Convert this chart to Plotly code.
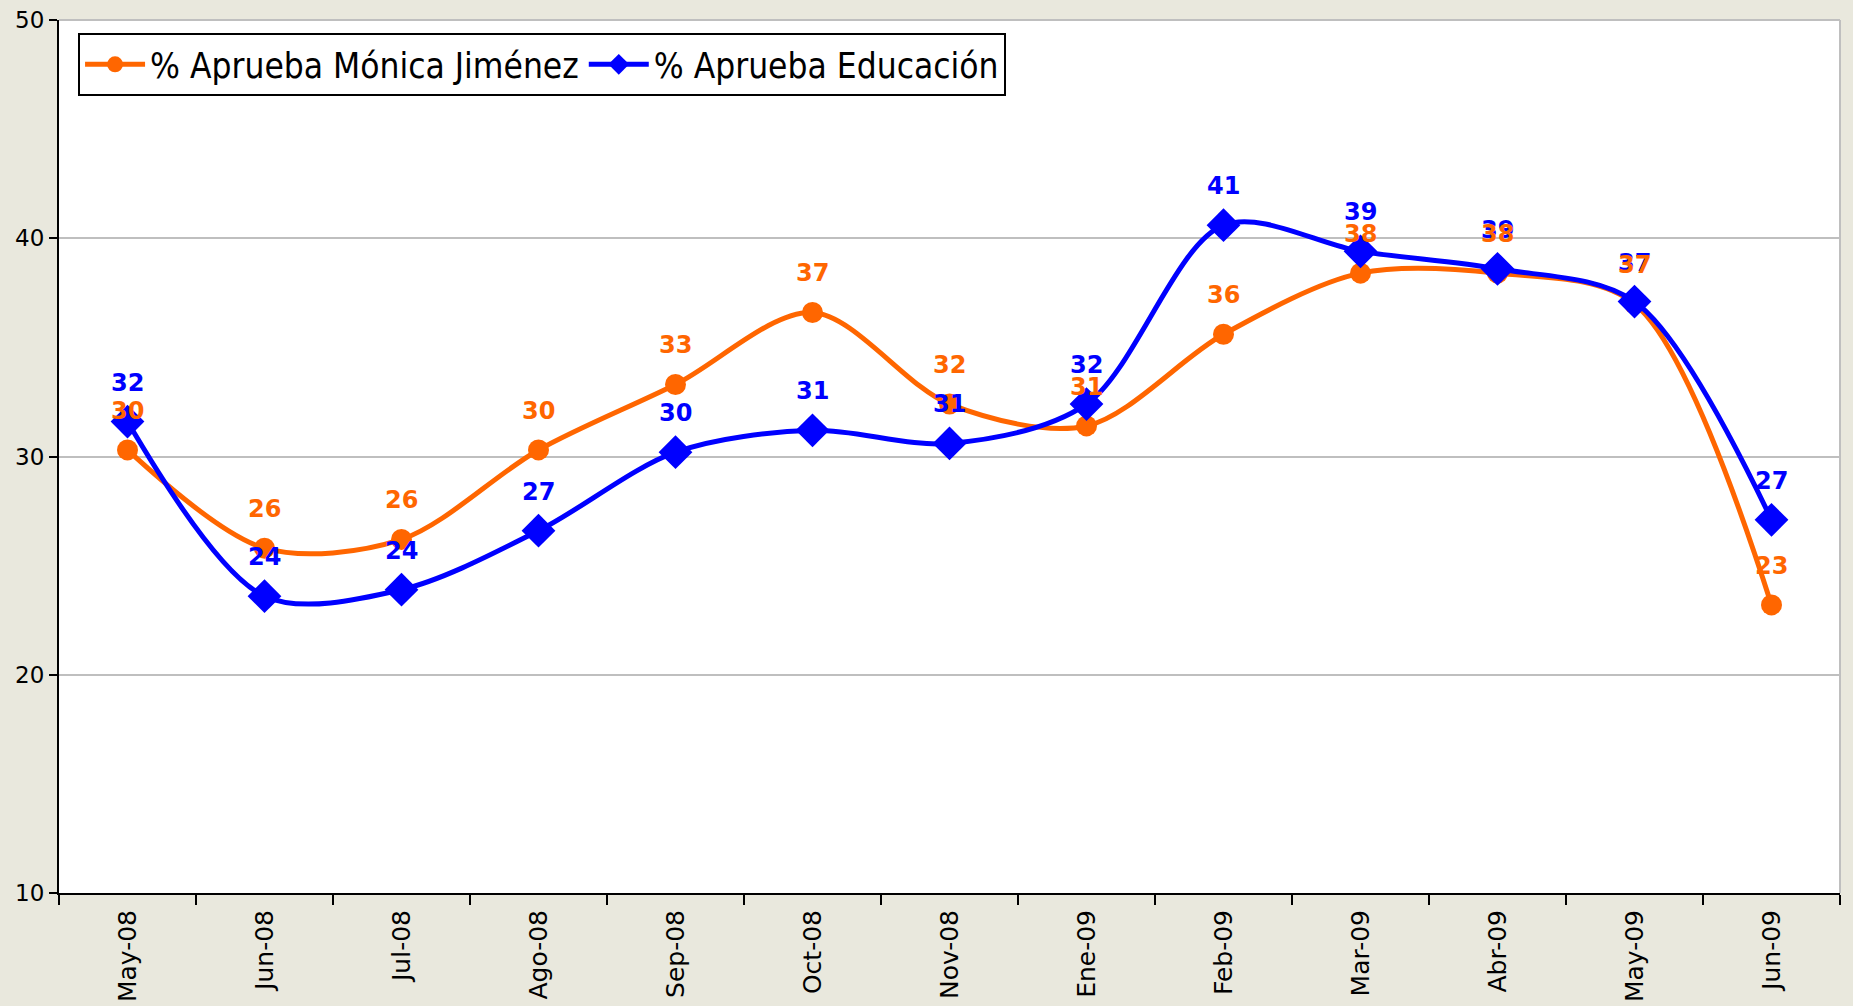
import plotly.graph_objects as go

# Monthly approval survey, May 2008 - June 2009
months = ["May-08", "Jun-08", "Jul-08", "Ago-08", "Sep-08", "Oct-08", "Nov-08",
          "Ene-09", "Feb-09", "Mar-09", "Abr-09", "May-09", "Jun-09"]
aprueba_jimenez = [30.3, 25.8, 26.2, 30.3, 33.3, 36.6, 32.4, 31.4, 35.6, 38.4, 38.4, 37.0, 23.2]
aprueba_educacion = [31.6, 23.6, 23.9, 26.6, 30.2, 31.2, 30.6, 32.4, 40.6, 39.4, 38.6, 37.1, 27.1]
y_ticks = [10, 20, 30, 40, 50]

ORANGE = "#FF6600"
BLUE = "#0000FF"
BG = "#E9E8DD"
LABEL_FONT = "DejaVu Sans"
LEGEND_FONT = "DejaVu Sans Condensed, DejaVu Sans, sans-serif"

fig = go.Figure()

fig.add_trace(go.Scatter(
    x=months, y=aprueba_jimenez, name="% Aprueba Mónica Jiménez",
    mode="lines+markers",
    line=dict(color=ORANGE, width=5, shape="spline", smoothing=0.9),
    marker=dict(symbol="circle", size=21, color=ORANGE),
))
fig.add_trace(go.Scatter(
    x=months, y=aprueba_educacion, name="% Aprueba Educación",
    mode="lines+markers",
    line=dict(color=BLUE, width=5, shape="spline", smoothing=0.9),
    marker=dict(symbol="diamond", size=26, color=BLUE),
))

# Rounded value labels above each point (blue first so orange sits on top)
annotations = []
for series, color in ((aprueba_educacion, BLUE), (aprueba_jimenez, ORANGE)):
    for m, v in zip(months, series):
        annotations.append(dict(
            x=m, y=v, xref="x", yref="y", text=f"<b>{int(v + 0.5)}</b>",
            showarrow=False, yshift=39,
            font=dict(family=LABEL_FONT, size=24, color=color),
        ))

# Light grey frame on the top and right of the plot area
shapes = [
    dict(type="line", xref="paper", yref="paper", x0=0, x1=1, y0=1, y1=1,
         line=dict(color="#BFBFBF", width=2), layer="below"),
    dict(type="line", xref="paper", yref="paper", x0=1, x1=1, y0=0, y1=1,
         line=dict(color="#BFBFBF", width=2), layer="below"),
]

fig.update_layout(
    width=1853, height=1006,
    margin=dict(l=59, r=13, t=20, b=113),
    paper_bgcolor=BG, plot_bgcolor="white",
    showlegend=True,
    legend=dict(
        orientation="h", x=0.0107, y=0.985, xanchor="left", yanchor="top",
        bgcolor="white", bordercolor="black", borderwidth=2,
        font=dict(family=LEGEND_FONT, size=35, color="black"),
        itemwidth=60, tracegroupgap=0,
    ),
    annotations=annotations,
    shapes=shapes,
    xaxis=dict(
        type="category", range=[-0.5, len(months) - 0.5], automargin=False,
        tickson="boundaries", ticks="outside", ticklen=10, tickwidth=2, tickcolor="black",
        tickangle=-90, showline=True, linecolor="black", linewidth=2,
        showgrid=False, zeroline=False, ticklabelstandoff=5,
        tickfont=dict(family=LABEL_FONT, size=25, color="black"),
    ),
    yaxis=dict(
        range=[10, 50], tickvals=y_ticks, ticks="outside", ticklen=8, tickwidth=2,
        tickcolor="black", showline=True, linecolor="black", linewidth=2, automargin=False,
        showgrid=True, gridcolor="#BFBFBF", gridwidth=2, zeroline=False,
        tickfont=dict(family=LABEL_FONT, size=23, color="black"),
    ),
)

fig.write_html("out.html")
